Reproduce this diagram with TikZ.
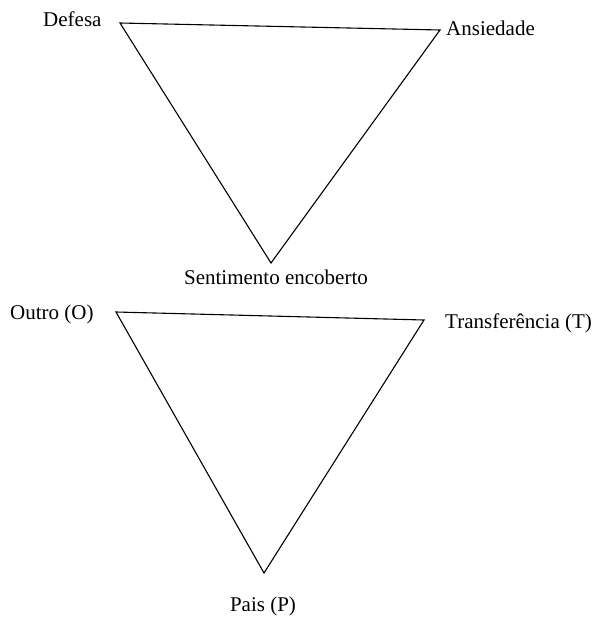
\documentclass[tikz,border=0pt]{standalone}
\usepackage{fontspec}
\setmainfont{Liberation Serif}
\begin{document}
\begin{tikzpicture}[x=1pt,y=-1pt,
  lbl/.style={inner sep=0pt,font=\fontsize{21}{24}\selectfont},
  tri/.style={draw=black,line width=1.1pt,line join=miter}]
\useasboundingbox (0,0) rectangle (595,618);
% top triangle
\coordinate (d) at (120,23);
\coordinate (a) at (440,30);
\coordinate (s) at (271,263);
\draw[tri] (d) -- (a) -- (s) -- cycle;
\node[lbl,anchor=base west] (ld) at (43,27) {Defesa};
\node[lbl,anchor=base west] (la) at (446,36) {Ansiedade};
\node[lbl,anchor=base] (ls) at (276,284) {Sentimento encoberto};
% bottom triangle
\coordinate (o) at (116,312);
\coordinate (t) at (424,320);
\coordinate (p) at (264,573);
\draw[tri] (o) -- (t) -- (p) -- cycle;
\node[lbl,anchor=base west] (lo) at (10,319) {Outro (O)};
\node[lbl,anchor=base west] (lt) at (445,328) {Transferência (T)};
\node[lbl,anchor=base] (lp) at (263,611) {Pais (P)};
\end{tikzpicture}
\end{document}
